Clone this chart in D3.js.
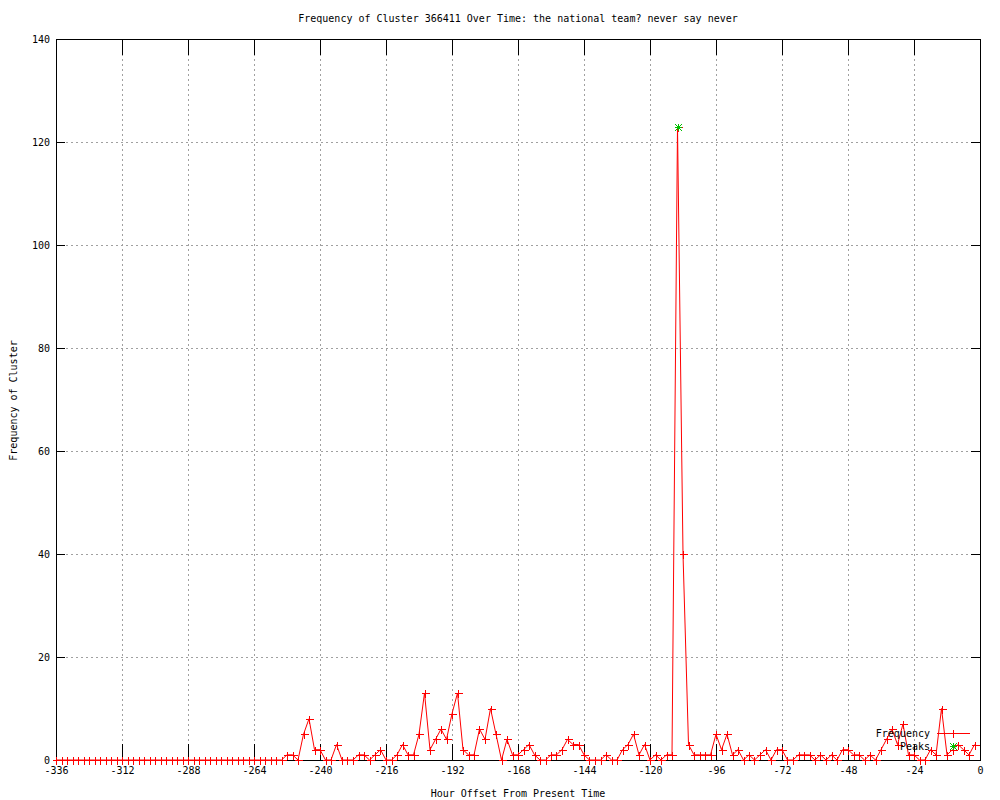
<!DOCTYPE html>
<html>
<head>
<meta charset="utf-8">
<script src="https://cdn.jsdelivr.net/npm/d3@7"></script>
<style>
    body { margin: 0; background: #fff; }
    svg text { font-family: "DejaVu Sans Mono", monospace; font-size: 10px; fill: #000; }
</style>
</head>
<body>
<div id="chart"></div>
<script>
// hour offsets (every 2 hours) and cluster frequency
const hours = [
    -336, -334, -332, -330, -328, -326, -324, -322, -320, -318, -316, -314, -312, -310,
    -308, -306, -304, -302, -300, -298, -296, -294, -292, -290, -288, -286, -284, -282,
    -280, -278, -276, -274, -272, -270, -268, -266, -264, -262, -260, -258, -256, -254,
    -252, -250, -248, -246, -244, -242, -240, -238, -236, -234, -232, -230, -228, -226,
    -224, -222, -220, -218, -216, -214, -212, -210, -208, -206, -204, -202, -200, -198,
    -196, -194, -192, -190, -188, -186, -184, -182, -180, -178, -176, -174, -172, -170,
    -168, -166, -164, -162, -160, -158, -156, -154, -152, -150, -148, -146, -144, -142,
    -140, -138, -136, -134, -132, -130, -128, -126, -124, -122, -120, -118, -116, -114,
    -112, -110, -108, -106, -104, -102, -100, -98, -96, -94, -92, -90, -88, -86,
    -84, -82, -80, -78, -76, -74, -72, -70, -68, -66, -64, -62, -60, -58,
    -56, -54, -52, -50, -48, -46, -44, -42, -40, -38, -36, -34, -32, -30,
    -28, -26, -24, -22, -20, -18, -16, -14, -12, -10, -8, -6, -4, -2
];
const frequency = [
    0, 0, 0, 0, 0, 0, 0, 0, 0, 0, 0, 0, 0, 0,
    0, 0, 0, 0, 0, 0, 0, 0, 0, 0, 0, 0, 0, 0,
    0, 0, 0, 0, 0, 0, 0, 0, 0, 0, 0, 0, 0, 0,
    1, 1, 0, 5, 8, 2, 2, 0, 0, 3, 0, 0, 0, 1,
    1, 0, 1, 2, 0, 0, 1, 3, 1, 1, 5, 13, 2, 4,
    6, 4, 9, 13, 2, 1, 1, 6, 4, 10, 5, 0, 4, 1,
    1, 2, 3, 1, 0, 0, 1, 1, 2, 4, 3, 3, 1, 0,
    0, 0, 1, 0, 0, 2, 3, 5, 1, 3, 0, 1, 0, 1,
    1, 123, 40, 3, 1, 1, 1, 1, 5, 2, 5, 1, 2, 0,
    1, 0, 1, 2, 0, 2, 2, 0, 0, 1, 1, 1, 0, 1,
    0, 1, 0, 2, 2, 1, 1, 0, 1, 0, 2, 4, 6, 3,
    7, 1, 1, 0, 0, 2, 1, 10, 1, 2, 3, 2, 1, 3
];
const peakHours = [-110];
const peakValues = [123];

const xTicks = [-336, -312, -288, -264, -240, -216, -192, -168, -144, -120, -96, -72, -48, -24, 0];
const yTicks = [0, 20, 40, 60, 80, 100, 120, 140];

const titleText = 'Frequency of Cluster 366411 Over Time: the national team? never say never';

const width = 1000;
const height = 800;
const plotLeft = 56, plotRight = 980, plotTop = 39, plotBottom = 760;

const svg = d3.select('#chart')
    .append('svg')
    .attr('width', width)
    .attr('height', height);

const x = d3.scaleLinear().domain([-336, 0]).range([plotLeft, plotRight]);
const y = d3.scaleLinear().domain([0, 140]).range([plotBottom, plotTop]);

// grid
const grid = svg.append('g')
    .attr('stroke', '#a0a0a0')
    .attr('stroke-dasharray', '2,3')
    .attr('shape-rendering', 'crispEdges');

grid.selectAll('.gx')
    .data(xTicks.slice(1, -1))
    .enter()
    .append('line')
    .attr('x1', d => Math.round(x(d)) + 0.5)
    .attr('x2', d => Math.round(x(d)) + 0.5)
    .attr('y1', plotTop)
    .attr('y2', plotBottom);

grid.selectAll('.gy')
    .data(yTicks.slice(1, -1))
    .enter()
    .append('line')
    .attr('x1', plotLeft)
    .attr('x2', plotRight)
    .attr('y1', d => Math.round(y(d)) + 0.5)
    .attr('y2', d => Math.round(y(d)) + 0.5);

// axes (ticks inward, mirrored)
const fmt = d => String(d);

svg.append('g')
    .attr('transform', `translate(0,${plotBottom})`)
    .call(d3.axisBottom(x).tickValues(xTicks).tickSize(-16).tickPadding(7).tickFormat(fmt));
svg.append('g')
    .attr('transform', `translate(0,${plotTop})`)
    .call(d3.axisTop(x).tickValues(xTicks).tickSize(-16).tickFormat(''));
svg.append('g')
    .attr('transform', `translate(${plotLeft},0)`)
    .call(d3.axisLeft(y).tickValues(yTicks).tickSize(-9).tickPadding(6).tickFormat(fmt));
svg.append('g')
    .attr('transform', `translate(${plotRight},0)`)
    .call(d3.axisRight(y).tickValues(yTicks).tickSize(-9).tickFormat(''));

svg.selectAll('.domain').remove();
svg.selectAll('.tick line').attr('shape-rendering', 'crispEdges');
svg.selectAll('.tick text')
    .style('font-family', '"DejaVu Sans Mono", monospace')
    .style('font-size', '10px');

// border
svg.append('rect')
    .attr('x', plotLeft + 0.5)
    .attr('y', plotTop + 0.5)
    .attr('width', plotRight - plotLeft)
    .attr('height', plotBottom - plotTop)
    .attr('fill', 'none')
    .attr('stroke', '#000')
    .attr('shape-rendering', 'crispEdges');

// data
const points = hours.map((h, i) => ({ h: h, v: frequency[i] }));

const line = d3.line()
    .x(d => x(d.h))
    .y(d => y(d.v));

svg.append('path')
    .datum(points)
    .attr('fill', 'none')
    .attr('stroke', '#ff0000')
    .attr('stroke-width', 1)
    .attr('d', line);

function plus(g, cx, cy, s, color) {
    g.append('path')
        .attr('d', `M${cx - s},${cy}H${cx + s}M${cx},${cy - s}V${cy + s}`)
        .attr('stroke', color)
        .attr('fill', 'none')
        .attr('shape-rendering', 'crispEdges');
}

function star(g, cx, cy, s, color) {
    g.append('path')
        .attr('d', `M${cx - s},${cy - s}L${cx + s},${cy + s}M${cx - s},${cy + s}L${cx + s},${cy - s}`)
        .attr('stroke', color)
        .attr('fill', 'none');
    plus(g, cx, cy, s, color);
}

const marks = svg.append('g');
points.forEach(p => {
    plus(marks, Math.round(x(p.h)) + 0.5, Math.round(y(p.v)) + 0.5, 4, '#ff0000');
});

peakHours.forEach((h, i) => {
    star(marks, Math.round(x(h)) + 0.5, Math.round(y(peakValues[i])) + 0.5, 3.5, '#00c000');
});

// legend
const key = svg.append('g');
key.append('text')
    .attr('x', 930)
    .attr('y', 733)
    .attr('dy', '0.35em')
    .attr('text-anchor', 'end')
    .text('Frequency');
key.append('line')
    .attr('x1', 937)
    .attr('x2', 970)
    .attr('y1', 733.5)
    .attr('y2', 733.5)
    .attr('stroke', '#ff0000')
    .attr('shape-rendering', 'crispEdges');
plus(key, 953.5, 733.5, 4, '#ff0000');
key.append('text')
    .attr('x', 930)
    .attr('y', 746)
    .attr('dy', '0.35em')
    .attr('text-anchor', 'end')
    .text('Peaks');
star(key, 953.5, 746.5, 3.5, '#00c000');

// titles
svg.append('text')
    .attr('x', (plotLeft + plotRight) / 2)
    .attr('y', 18)
    .attr('dy', '0.35em')
    .attr('text-anchor', 'middle')
    .text(titleText);

svg.append('text')
    .attr('x', (plotLeft + plotRight) / 2)
    .attr('y', 793)
    .attr('dy', '0.35em')
    .attr('text-anchor', 'middle')
    .text('Hour Offset From Present Time');

svg.append('text')
    .attr('transform', `translate(13,${(plotTop + plotBottom) / 2 + 1}) rotate(-90)`)
    .attr('dy', '0.35em')
    .attr('text-anchor', 'middle')
    .text('Frequency of Cluster');
</script>
</body>
</html>
